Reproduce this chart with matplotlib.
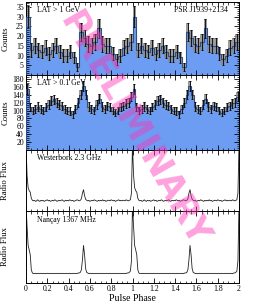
import numpy as np
import matplotlib
matplotlib.use('Agg')
import matplotlib.pyplot as plt
from matplotlib.ticker import MultipleLocator, NullLocator

plt.rcParams['font.family'] = ['Liberation Serif', 'DejaVu Serif']

# ---------------- data ----------------
# LAT > 1 GeV counts, 30 bins per rotation (phase 0..1)
lat1_counts = [30, 13, 15, 13, 12, 14, 11, 13, 15, 12, 10, 10, 12, 9, 4,
               22, 19, 16, 15, 17, 24, 16, 15, 15, 11, 8, 10, 14, 15, 17]
# LAT > 0.1 GeV counts, 40 bins per rotation
lat01_counts = [155, 108, 100, 105, 110, 105, 100, 108, 115, 125, 128, 120, 115, 112,
                105, 100, 98, 90, 105, 120, 140, 162, 140, 110, 105, 100, 115, 130,
                110, 105, 112, 108, 100, 95, 100, 108, 112, 118, 120, 135]
# Westerbork 2.3 GHz profile, 100 samples per rotation (normalised)
wsrt_flux = [1.10, 0.50, 0.26, 0.20, 0.17, 0.05, 0.01, 0.00, 0.01, -0.01,
             0.00, 0.02, 0.00, -0.01, 0.01, 0.00, 0.01, -0.01, 0.00, 0.01,
             0.02, 0.00, 0.01, -0.01, 0.00, 0.01, 0.00, 0.02, 0.01, -0.01,
             0.00, 0.01, 0.00, 0.01, 0.02, 0.00, -0.01, 0.01, 0.00, 0.01,
             0.00, 0.02, 0.01, 0.00, 0.01, -0.01, 0.00, 0.01, 0.02, 0.01,
             0.00, 0.01, 0.04, 0.15, 0.22, 0.10, 0.03, 0.01, 0.00, 0.01,
             -0.01, 0.00, 0.01, 0.00, 0.02, 0.01, 0.00, -0.01, 0.01, 0.00,
             0.01, 0.00, 0.02, 0.00, 0.01, -0.01, 0.00, 0.01, 0.01, 0.00,
             0.02, 0.01, 0.00, 0.01, -0.01, 0.00, 0.01, 0.02, 0.00, 0.01,
             0.00, 0.01, 0.01, 0.00, 0.02, 0.01, 0.00, 0.01, 0.02, 0.15]
# Nancay 1367 MHz profile, 100 samples per rotation (normalised)
ncy_flux = [1.10, 0.75, 0.45, 0.38, 0.30, 0.06, 0.01, 0.00, 0.00, 0.005,
            0.00, 0.005, 0.00, 0.00, 0.005, 0.00, 0.00, 0.005, 0.00, 0.00,
            0.005, 0.00, 0.00, 0.005, 0.00, 0.00, 0.005, 0.00, 0.00, 0.005,
            0.00, 0.00, 0.005, 0.00, 0.00, 0.005, 0.00, 0.00, 0.005, 0.00,
            0.00, 0.005, 0.00, 0.00, 0.005, 0.00, 0.00, 0.005, 0.00, 0.01,
            0.01, 0.02, 0.06, 0.22, 0.45, 0.30, 0.08, 0.02, 0.01, 0.00,
            0.005, 0.00, 0.00, 0.005, 0.00, 0.00, 0.005, 0.00, 0.00, 0.005,
            0.00, 0.00, 0.005, 0.00, 0.00, 0.005, 0.00, 0.00, 0.005, 0.00,
            0.00, 0.005, 0.00, 0.00, 0.005, 0.00, 0.00, 0.005, 0.00, 0.00,
            0.005, 0.00, 0.00, 0.005, 0.00, 0.01, 0.01, 0.02, 0.04, 0.20]

xticks = [0, 0.2, 0.4, 0.6, 0.8, 1, 1.2, 1.4, 1.6, 1.8, 2]
xticklabels = ['0', '0.2', '0.4', '0.6', '0.8', '1', '1.2', '1.4', '1.6', '1.8', '2']

# ---------------- figure ----------------
W, H = 260, 302
fig = plt.figure(figsize=(W / 100, H / 100), dpi=100)
L, R = 26 / W, 239 / W
ys = [2, 75, 150, 211, 283]
axes = []
for i in range(4):
    top = 1 - ys[i] / H
    bot = 1 - ys[i + 1] / H
    ax = fig.add_axes([L, bot, R - L, top - bot])
    axes.append(ax)

fill_c = '#6c9df2'
line_c = '#2f4f8a'
tick_fs = 5.6
lab_fs = 6.2


def hist_panel(ax, counts):
    c = np.array(counts, dtype=float)
    n = len(c)
    vals = np.tile(c, 2)
    edges = np.linspace(0, 2, 2 * n + 1)
    centers = 0.5 * (edges[:-1] + edges[1:])
    err = np.sqrt(vals)
    w = edges[1] - edges[0]
    ax.stairs(vals, edges, fill=True, color=fill_c, lw=0, zorder=1)
    ax.bar(centers, 2 * err, bottom=vals - err, width=w, color='#8a8a8a',
           edgecolor='none', alpha=0.85, zorder=2)
    ax.stairs(vals, edges, color=line_c, lw=0.8, zorder=3)
    ax.errorbar(centers, vals, yerr=err, fmt='none', ecolor='black',
                elinewidth=0.6, capsize=1.0, capthick=0.6, zorder=4)


def radio_panel(ax, flux):
    f = np.array(flux, dtype=float)
    y = np.concatenate([f, f, f[:1]])
    x = np.arange(len(y)) / len(f)
    ax.plot(x, y, color='#222222', lw=0.6)


hist_panel(axes[0], lat1_counts)
axes[0].set_ylim(0, 37.5)
axes[0].yaxis.set_major_locator(MultipleLocator(5))
axes[0].yaxis.set_minor_locator(MultipleLocator(1))
axes[0].set_yticks([5, 10, 15, 20, 25, 30, 35])

hist_panel(axes[1], lat01_counts)
axes[1].set_ylim(0, 190)
axes[1].set_yticks([20, 40, 60, 80, 100, 120, 140, 160, 180])
axes[1].yaxis.set_minor_locator(MultipleLocator(5))

radio_panel(axes[2], wsrt_flux)
axes[2].set_ylim(-0.2, 1.0)
radio_panel(axes[3], ncy_flux)
axes[3].set_ylim(-0.15, 1.0)

for i, ax in enumerate(axes):
    ax.set_xlim(0, 2)
    ax.set_xticks(xticks)
    ax.xaxis.set_minor_locator(MultipleLocator(0.05))
    ax.tick_params(which='both', direction='in', top=True, right=True,
                   labelsize=tick_fs, pad=1.5)
    ax.tick_params(which='major', length=3.5, width=0.6)
    ax.tick_params(which='minor', length=1.8, width=0.5)
    for s in ax.spines.values():
        s.set_linewidth(0.7)
    if i < 3:
        ax.set_xticklabels([])
    else:
        ax.set_xticklabels(xticklabels)
    if i >= 2:
        ax.set_yticks([])
        ax.yaxis.set_minor_locator(NullLocator())
    ax.yaxis.set_label_coords(-0.078, 0.5)

axes[0].set_ylabel('Counts', fontsize=lab_fs)
axes[1].set_ylabel('Counts', fontsize=lab_fs)
axes[2].set_ylabel('Radio Flux', fontsize=lab_fs)
axes[3].set_ylabel('Radio Flux', fontsize=lab_fs)
axes[3].set_xlabel('Pulse Phase', fontsize=7, labelpad=1)

txt_kw = dict(fontsize=5.6, va='top')
axes[0].text(0.05, 0.95, 'LAT > 1 GeV', transform=axes[0].transAxes, ha='left', **txt_kw)
axes[0].text(0.95, 0.95, 'PSR J1939+2134', transform=axes[0].transAxes, ha='right', **txt_kw)
axes[1].text(0.05, 0.95, 'LAT > 0.1 GeV', transform=axes[1].transAxes, ha='left', **txt_kw)
axes[2].text(0.05, 0.93, 'Westerbork 2.3 GHz', transform=axes[2].transAxes, ha='left', **txt_kw)
axes[3].text(0.05, 0.93, 'Nançay 1367 MHz', transform=axes[3].transAxes, ha='left', **txt_kw)

fig.text(134 / W, 1 - 130 / H, 'PRELIMINARY', rotation=-60, fontsize=25,
         color=(1.0, 0.2, 0.72), alpha=0.45, ha='center', va='center',
         family='DejaVu Sans', fontweight='bold', rotation_mode='anchor', zorder=10)

fig.savefig('out.png', dpi=100)
